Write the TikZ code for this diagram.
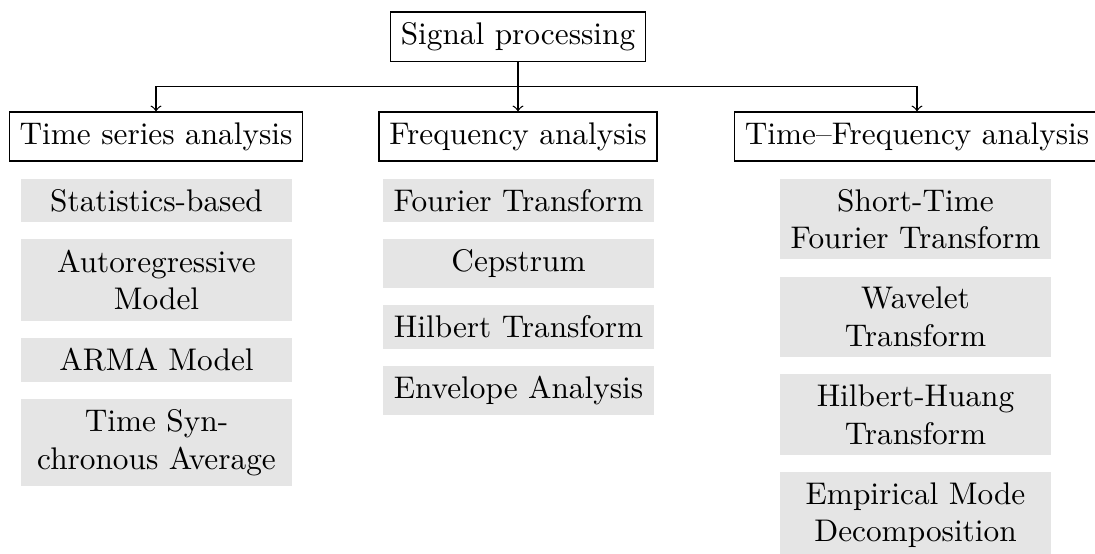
\documentclass[tikz,border=0pt]{standalone}
\usetikzlibrary{positioning}
\tikzset{
  head/.style={draw, line width=0.4pt, inner sep=0.333em},
  method/.style={fill=gray!20, text width=80pt, align=center, inner sep=0.333em},
  link/.style={->, line width=0.4pt},
}
\begin{document}
\begin{tikzpicture}[x=0.3195pt, y=-0.3195pt, node distance=5.1pt]
\useasboundingbox (0,0) rectangle (1095,554);

% root and the three branches
\node[head] (sp) at (518,36.8) {Signal processing};
\node[head] (ts) at (156,136.5) {Time series analysis};
\node[head] (fa) at (518,136.5) {Frequency analysis};
\node[head] (tf) at (917,136.5) {Time--Frequency analysis};

\path (sp.south) -- (fa.north) coordinate[pos=0.5] (fork);
\draw[link] (sp.south) -- (fa.north);
\draw[link] (fork) -| (ts.north);
\draw[link] (fork) -| (tf.north);

% time series methods
\node[method, anchor=north] (t1) at (156.5,178) {Statistics-based};
\node[method, below=of t1] (t2) {Autoregressive\\Model};
\node[method, below=of t2] (t3) {ARMA Model};
\node[method, below=of t3] (t4) {Time Syn-\\chronous Average};

% frequency methods
\node[method, anchor=north] (f1) at (518.5,178) {Fourier Transform};
\node[method, below=of f1] (f2) {Cepstrum};
\node[method, below=of f2] (f3) {Hilbert Transform};
\node[method, below=of f3] (f4) {Envelope Analysis};

% time-frequency methods
\node[method, anchor=north] (q1) at (915.5,178) {Short-Time\\Fourier Transform};
\node[method, below=of q1] (q2) {Wavelet\\Transform};
\node[method, below=of q2] (q3) {Hilbert-Huang\\Transform};
\node[method, below=of q3] (q4) {Empirical Mode\\Decomposition};
\end{tikzpicture}
\end{document}
